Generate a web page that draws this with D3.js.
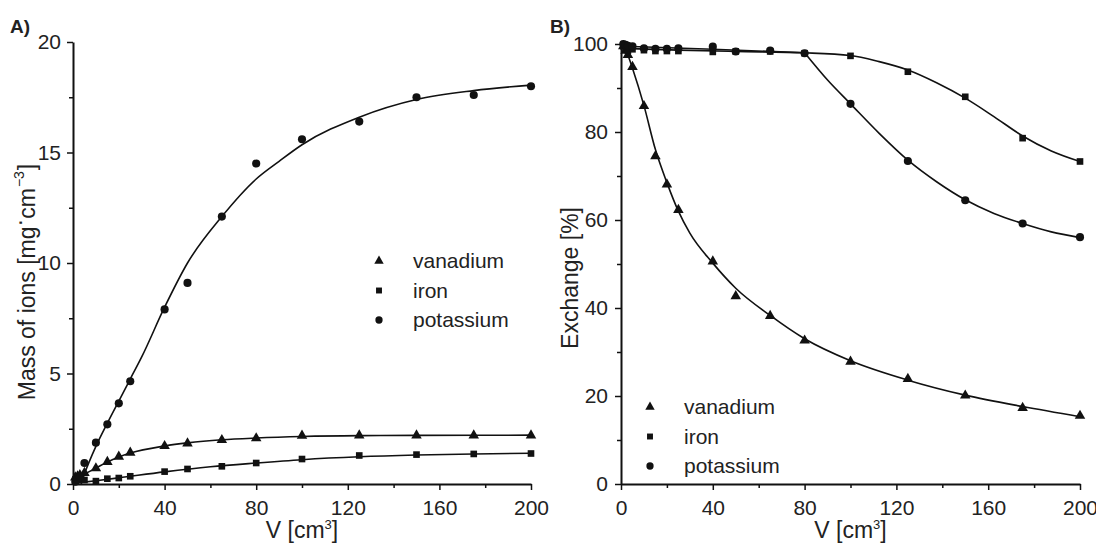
<!DOCTYPE html>
<html>
<head>
<meta charset="utf-8">
<script src="https://cdn.jsdelivr.net/npm/d3@7"></script>
<style>
  body { margin: 0; background: #fff; }
  svg { font-family: "Liberation Sans", Arial, sans-serif; }
  .axis path, .axis line { stroke: #111; }
  .axis text { font-size: 21px; fill: #222; font-family: "Liberation Sans", Arial, sans-serif; }
</style>
</head>
<body>
<svg id="vis" width="1096" height="548"></svg>
<script>
// volumes shared by both panels [cm3]
const volumes = [1, 2, 3, 5, 10, 15, 20, 25, 40, 50, 65, 80, 100, 125, 150, 175, 200];

// panel A: mass of ions [mg/cm3]
const vanadiumMass = [0.3, 0.35, 0.4, 0.5, 0.71, 1.0, 1.24, 1.42, 1.72, 1.84, 1.99, 2.07, 2.19, 2.2, 2.2, 2.2, 2.2];
const ironMass = [0.2, 0.25, 0.3, 0.18, 0.13, 0.24, 0.27, 0.35, 0.56, 0.68, 0.8, 0.95, 1.13, 1.29, 1.33, 1.36, 1.38];
const potassiumMass = [0.1, 0.2, 0.3, 0.95, 1.87, 2.7, 3.65, 4.65, 7.9, 9.1, 12.1, 14.5, 15.6, 16.4, 17.5, 17.6, 18.0];

// panel A: fitted curves [V, mass]
const vanadiumFitA = [[1, 0.25], [5, 0.45], [10, 0.72], [15, 0.99], [20, 1.22], [25, 1.4], [40, 1.72], [50, 1.86], [65, 2.0], [80, 2.08], [100, 2.15], [125, 2.19], [150, 2.2], [200, 2.21]];
const ironFitA = [[2, 0.05], [10, 0.15], [20, 0.28], [40, 0.55], [60, 0.78], [80, 0.95], [100, 1.1], [125, 1.23], [150, 1.31], [175, 1.36], [200, 1.39]];
const potassiumFitA = [[3.5, 0], [5, 0.45], [10, 1.7], [15, 2.75], [20, 3.75], [25, 4.75], [30, 5.75], [40, 8.0], [50, 10.0], [65, 12.1], [80, 13.8], [90, 14.6], [100, 15.35], [125, 16.6], [150, 17.4], [175, 17.8], [200, 18.05]];

// panel B: exchange [%]
const vanadiumExch = [99.5, 98.5, 97.5, 94.8, 85.9, 74.5, 68.1, 62.3, 50.6, 42.7, 38.2, 32.6, 27.8, 23.9, 20.1, 17.3, 15.5];
const ironExch = [99.5, 99, 98.5, 98.8, 98.6, 98.4, 98.4, 98.4, 98.2, 98.3, 98.3, 97.9, 97.3, 93.7, 88.0, 78.6, 73.3];
const potassiumExch = [100, 99.8, 99.6, 99.5, 99.0, 98.9, 98.9, 99.0, 99.4, 98.3, 98.5, 97.9, 86.4, 73.4, 64.5, 59.2, 56.1];

// panel B: fitted curves [V, exchange]
const vanadiumFitB = [[1, 100], [3, 97.5], [5, 94.5], [10, 86], [15, 76], [20, 68.5], [25, 62], [30, 57], [40, 50.2], [50, 44.5], [65, 38.3], [80, 33], [100, 28], [125, 23.6], [150, 20.2], [175, 17.6], [200, 15.3]];
const ironFitB = [[1, 99], [25, 98.6], [50, 98.3], [80, 98], [100, 97.4], [112.5, 96.0], [125, 94.1], [137.5, 91.2], [150, 87.7], [162.5, 83.5], [175, 79.1], [187.5, 75.7], [200, 73.3]];
// potassium breaks at 80 cm3: flat part, then the drop
const potassiumFlatB = [[1, 99.5], [40, 98.8], [80, 98]];
const potassiumDropB = [[80, 98], [90, 91.8], [100, 86.4], [112.5, 79.7], [125, 73.6], [137.5, 68.7], [150, 64.6], [162.5, 61.5], [175, 59.2], [187.5, 57.3], [200, 56.0]];

const ionNames = ['vanadium', 'iron', 'potassium'];
const ionSymbols = [d3.symbolTriangle, d3.symbolSquare, d3.symbolCircle];
const symbolSizes = [48, 44, 52];

const xTicks = [0, 40, 80, 120, 160, 200];
const xMinor = [20, 60, 100, 140, 180];
const yTicksA = [0, 5, 10, 15, 20];
const yMinorA = [2.5, 7.5, 12.5, 17.5];
const yTicksB = [0, 20, 40, 60, 80, 100];
const yMinorB = [10, 30, 50, 70, 90];

let vis = d3.select('#vis');

const drawPanel = (cfg) => {
  const x = d3.scaleLinear().domain([0, 200]).range(cfg.xRange);
  const y = d3.scaleLinear().domain(cfg.yDomain).range([484, cfg.yTop]);
  const g = vis.append('g');

  // minor ticks first, then major ticks with labels
  g.append('g').attr('class', 'axis').attr('transform', `translate(0,${y(0)})`)
    .call(d3.axisBottom(x).tickValues(xMinor).tickSize(4).tickSizeOuter(0).tickFormat(''))
    .call(s => s.select('.domain').remove());
  g.append('g').attr('class', 'axis').attr('transform', `translate(${x(0)},0)`)
    .call(d3.axisLeft(y).tickValues(cfg.yMinor).tickSize(4).tickSizeOuter(0).tickFormat(''))
    .call(s => s.select('.domain').remove());
  g.append('g').attr('class', 'axis').attr('transform', `translate(0,${y(0)})`)
    .call(d3.axisBottom(x).tickValues(xTicks).tickSize(6).tickSizeOuter(0).tickPadding(10))
    .call(s => s.select('.domain').attr('stroke-width', 2));
  g.append('g').attr('class', 'axis').attr('transform', `translate(${x(0)},0)`)
    .call(d3.axisLeft(y).tickValues(cfg.yTicks).tickSize(6).tickSizeOuter(0).tickPadding(cfg.yPad))
    .call(s => s.select('.domain').attr('stroke-width', 2));
  g.selectAll('.axis line').attr('stroke-width', 1.5);

  // fitted lines
  const line = d3.line().x(d => x(d[0])).y(d => y(d[1])).curve(d3.curveMonotoneX);
  cfg.fits.forEach(f => {
    g.append('path').attr('d', line(f)).attr('fill', 'none')
      .attr('stroke', '#111').attr('stroke-width', 1.6);
  });

  // measured points
  cfg.series.forEach((vals, i) => {
    g.append('g').selectAll('path')
      .data(vals)
      .enter()
      .append('path')
      .attr('d', d3.symbol().type(ionSymbols[i]).size(symbolSizes[i]))
      .attr('transform', (d, j) => `translate(${x(volumes[j])},${y(d)})`)
      .attr('fill', '#111');
  });

  // legend
  ionNames.forEach((name, i) => {
    const ly = cfg.legend[1] + i * 29.5;
    g.append('path')
      .attr('d', d3.symbol().type(ionSymbols[i]).size(symbolSizes[i] * 0.8))
      .attr('transform', `translate(${cfg.legend[0]},${ly})`)
      .attr('fill', '#111');
    g.append('text').attr('x', cfg.legend[0] + 34).attr('y', ly + 7)
      .attr('font-size', 21).attr('fill', '#222').text(name);
  });

  // panel letter
  g.append('text').attr('x', cfg.letterX).attr('y', 33)
    .attr('font-size', 19).attr('font-weight', 'bold').attr('fill', '#222').text(cfg.letter);

  // x title
  const xt = g.append('text').attr('x', (cfg.xRange[0] + cfg.xRange[1]) / 2).attr('y', 538)
    .attr('text-anchor', 'middle').attr('font-size', 23).attr('fill', '#222');
  xt.append('tspan').text('V [cm');
  xt.append('tspan').attr('font-size', 13).attr('dy', -9).text('3');
  xt.append('tspan').attr('dy', 9).text(']');

  return g;
};

const gA = drawPanel({
  xRange: [73, 531], yDomain: [0, 20], yTop: 42,
  yTicks: yTicksA, yMinor: yMinorA, yPad: 6,
  fits: [vanadiumFitA, ironFitA, potassiumFitA],
  series: [vanadiumMass, ironMass, potassiumMass],
  legend: [379, 261], letter: 'A)', letterX: 10
});

const gB = drawPanel({
  xRange: [621, 1080], yDomain: [0, 100], yTop: 44,
  yTicks: yTicksB, yMinor: yMinorB, yPad: 7,
  fits: [vanadiumFitB, ironFitB, potassiumFlatB, potassiumDropB],
  series: [vanadiumExch, ironExch, potassiumExch],
  legend: [650, 407], letter: 'B)', letterX: 550
});

// y titles
const ytA = gA.append('text').attr('transform', 'translate(35,282) rotate(-90)')
  .attr('text-anchor', 'middle').attr('font-size', 23).attr('fill', '#222');
ytA.append('tspan').text('Mass of ions [mg');
ytA.append('tspan').attr('dy', -8).text('·');
ytA.append('tspan').attr('dy', 8).text('cm');
ytA.append('tspan').attr('font-size', 14).attr('dy', -11).attr('dx', 1).text('−3');
ytA.append('tspan').attr('dy', 11).attr('dx', 1).text(']');

gB.append('text').attr('transform', 'translate(578,278) rotate(-90)')
  .attr('text-anchor', 'middle').attr('font-size', 23).attr('fill', '#222')
  .text('Exchange [%]');
</script>
</body>
</html>
